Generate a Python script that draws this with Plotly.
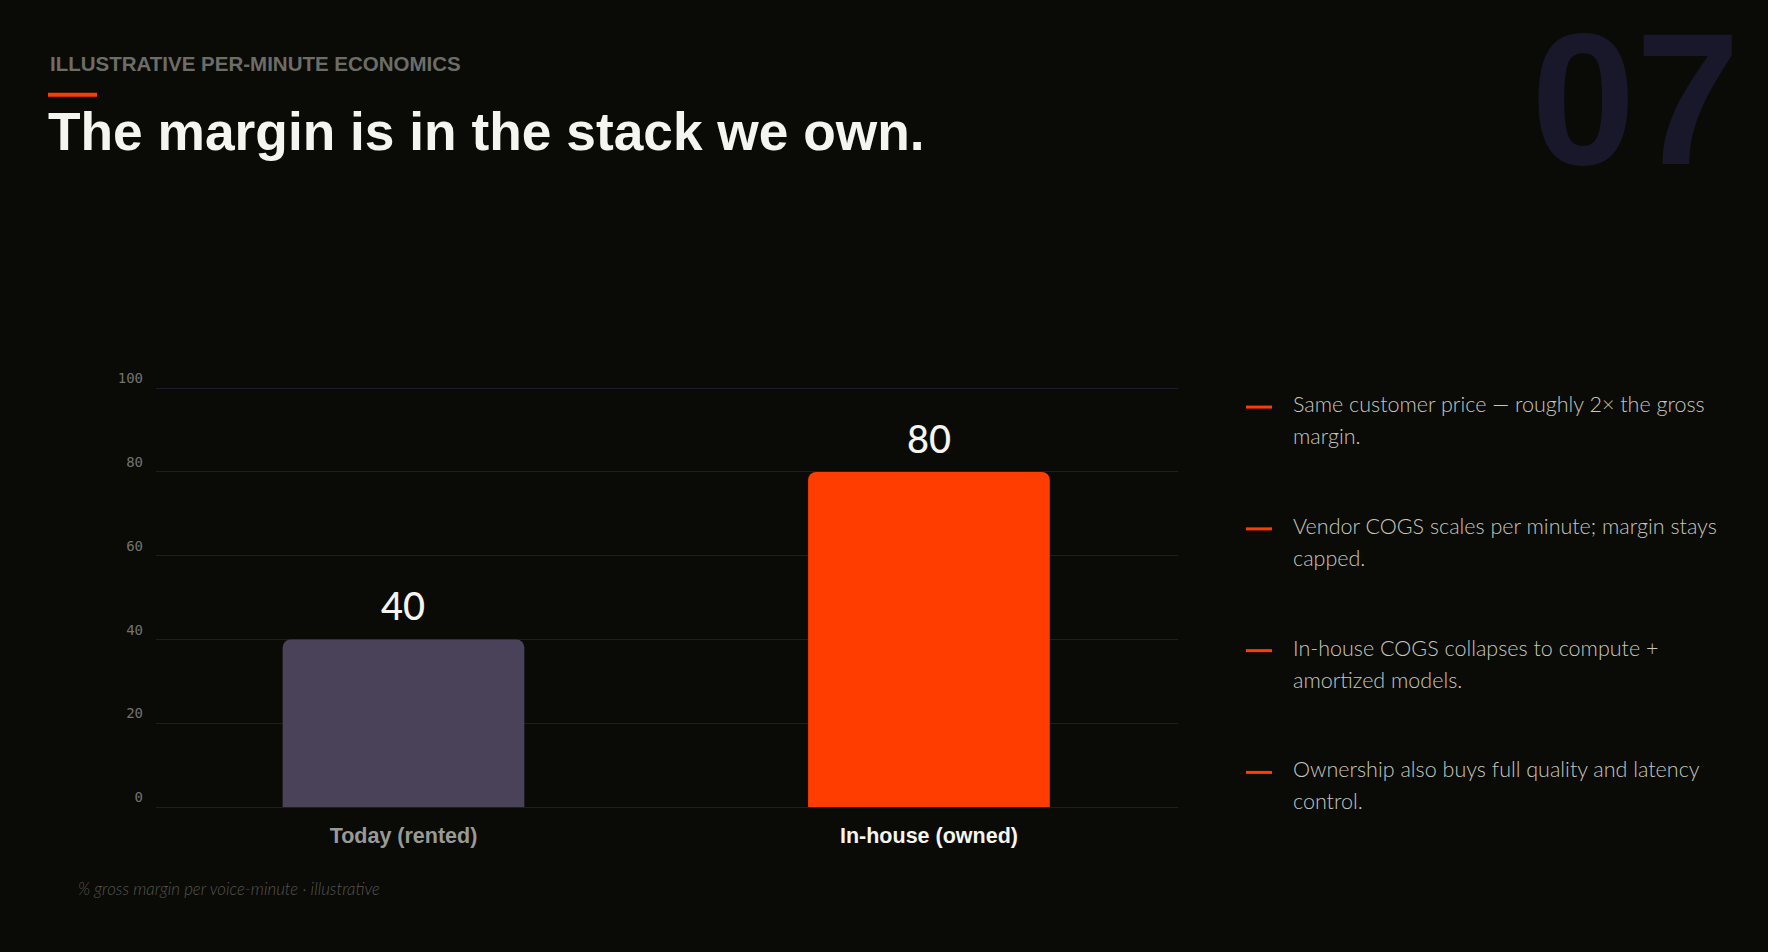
import plotly.graph_objects as go

# data
categories = ["Today (rented)", "In-house (owned)"]
margins = [40, 80]
bar_colors = ["#4a4259", "#ff3d00"]
label_colors = ["#9a9a95", "#f5f5f0"]
y_ticks = [0, 20, 40, 60, 80, 100]

bullets = [
    ["Same customer price \u2014 roughly 2\u00d7 the gross", "margin."],
    ["Vendor COGS scales per minute; margin stays", "capped."],
    ["In-house COGS collapses to compute +", "amortized models."],
    ["Ownership also buys full quality and latency", "control."],
]

W, H = 1768, 952
L, R, B = 156, 1178, 807
Y_TOP = 100.5
T = B - (B - 388) * Y_TOP / 100
BG = "#0a0a06"
ACCENT = "#ff3d00"


def px_x(px):
    return (px - L) / (R - L)


def px_y(py):
    return (B - py) / (B - T)


fig = go.Figure()

fig.add_trace(go.Bar(
    x=categories, y=margins,
    marker=dict(color=bar_colors, line=dict(width=0)),
    width=0.46,
    hoverinfo="skip",
))

# value labels above bars
for c, v in zip(categories, margins):
    fig.add_annotation(x=c, y=v, xref="x", yref="y", text=str(v),
                       showarrow=False, yanchor="bottom", yshift=9,
                       font=dict(family="Lato", size=38, color="#f5f5f0", weight=500))

# header
fig.add_annotation(x=px_x(48), y=px_y(63), xref="paper", yref="paper",
                   text="ILLUSTRATIVE PER-MINUTE ECONOMICS", showarrow=False,
                   xanchor="left", yanchor="middle",
                   font=dict(family="Liberation Sans", size=20.5, color="#6d6d68", weight="bold"))
fig.add_annotation(x=px_x(46), y=px_y(131.5), xref="paper", yref="paper",
                   text="The margin is in the stack we own.", showarrow=False,
                   xanchor="left", yanchor="middle",
                   font=dict(family="Liberation Sans", size=53.3, color="#f5f5f0", weight="bold"))
fig.add_annotation(x=px_x(1742), y=px_y(28), xref="paper", yref="paper",
                   text="07", showarrow=False,
                   xanchor="right", yanchor="top", yshift=36,
                   font=dict(family="Liberation Sans", size=188, color="#19172a", weight="bold"))
fig.add_shape(type="line", xref="paper", yref="paper",
              x0=px_x(48), x1=px_x(97), y0=px_y(94.5), y1=px_y(94.5),
              line=dict(color=ACCENT, width=4))

# bullets on the right
for i, lines in enumerate(bullets):
    base = 412 + i * 121.8
    fig.add_shape(type="line", xref="paper", yref="paper",
                  x0=px_x(1246), x1=px_x(1272), y0=px_y(base - 5), y1=px_y(base - 5),
                  line=dict(color=ACCENT, width=3))
    for j, line in enumerate(lines):
        fig.add_annotation(x=px_x(1291), y=px_y(base + j * 32 - 8),
                           xref="paper", yref="paper", text=line,
                           showarrow=False, xanchor="left", yanchor="middle",
                           font=dict(family="Lato", size=21.5, color="#c6c6bf", weight=300))

# footnote
fig.add_annotation(x=px_x(76), y=px_y(889), xref="paper", yref="paper",
                   text="% gross margin per voice-minute \u00b7 illustrative",
                   showarrow=False, xanchor="left", yanchor="middle",
                   font=dict(family="Lato", size=16.8, color="#55554f", style="italic", weight=300))

fig.update_layout(
    width=W, height=H, autosize=False,
    margin=dict(l=L, r=W - R, t=T, b=H - B, pad=0),
    paper_bgcolor=BG, plot_bgcolor=BG,
    showlegend=False,
    barcornerradius=8,
    font=dict(family="Liberation Sans", color="#f5f5f0"),
)

fig.update_xaxes(
    range=[-0.471, 1.474],
    tickmode="array", tickvals=categories,
    ticktext=[f"<span style='color:{c}'><b>{t}</b></span>" for t, c in zip(categories, label_colors)],
    tickfont=dict(family="Liberation Sans", size=21.5),
    ticks="", ticklabelstandoff=13,
    showgrid=False, zeroline=False, showline=False,
)

fig.update_yaxes(
    range=[0, Y_TOP],
    tickmode="array", tickvals=y_ticks, ticktext=[str(t) for t in y_ticks],
    tickfont=dict(family="DejaVu Sans Mono", size=14, color="#74746f"),
    ticklabelposition="outside top", ticks="", ticklabelstandoff=12,
    showgrid=True, gridcolor="#1f1c2e", gridwidth=1,
    zeroline=True, zerolinecolor="#1f1c2e", zerolinewidth=1,
    showline=False,
)

fig.write_html("out.html", config={"displayModeBar": False},
               post_script="document.body.style.margin='0';document.body.style.background='%s';" % BG)
